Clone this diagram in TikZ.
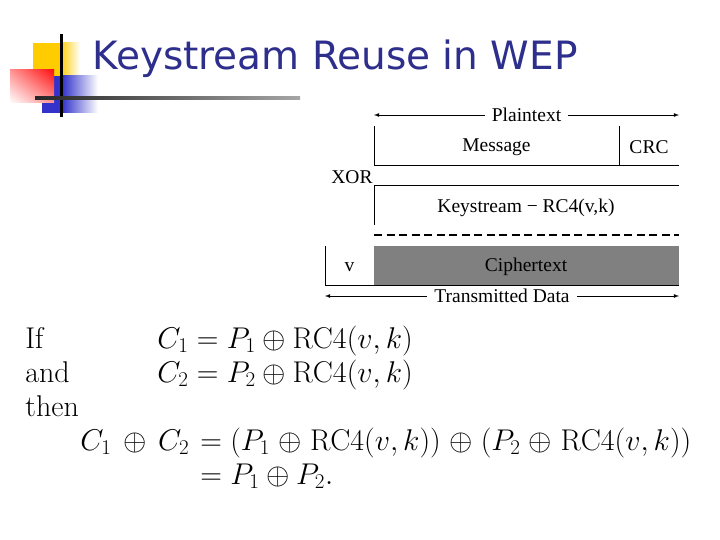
\RequirePackage{fix-cm}
\documentclass[tikz,border=0pt]{standalone}
\usepackage{fontspec}
\usepackage{amsmath}
\usetikzlibrary{shadings}
\newfontfamily\titlefont{DejaVu Sans}
\newfontfamily\diagfont{Liberation Serif}
\definecolor{titleblue}{HTML}{2E2E8C}
\definecolor{logoyellow}{HTML}{FFCC00}
\definecolor{logored}{HTML}{FF1010}
\definecolor{logoblue}{HTML}{3333CC}
\definecolor{cipherfill}{HTML}{808080}
\newcommand{\wideoplus}{\mathbin{\mkern1mu\oplus\mkern1mu}}

\begin{document}
\begin{tikzpicture}[
    x=1pt, y=-1pt,
    line width=0.8pt,
    lbl/.style={font=\diagfont\fontsize{19.5}{21}\selectfont, inner sep=1pt},
    spanlbl/.style={lbl, fill=white, inner xsep=7pt},
    mathline/.style={font=\fontsize{30}{36}\selectfont, inner sep=0pt, anchor=base west}
]

    \useasboundingbox (0,0) rectangle (720,540);

    % Logo squares
    \fill[logoyellow] (33,43) rectangle (60,76);
    \shade[left color=logoyellow, right color=white] (60,43) rectangle (80,76);
    \fill[logoblue] (42,76) rectangle (62,113);
    \shade[left color=logoblue, right color=white] (62,76) rectangle (98,113);
    \shade[upper left=logored!45!white, upper right=logored, lower left=white, lower right=logored!45!white] (10,70) rectangle (54,103);
    % Logo cross lines
    \fill[black] (60,34) rectangle (63,117);
    \shade[left color=black!85, right color=black!35] (35,96.5) rectangle (300,99.5);

    % Title
    \node[anchor=base west, inner sep=0pt, text=titleblue, font=\titlefont\fontsize{39}{40}\selectfont] (title) at (92,70) {Keystream Reuse in WEP};

    % Plaintext span
    \coordinate (ptL) at (374,115);
    \coordinate (ptR) at (679,115);
    \draw[latex-latex] (ptL) -- node[spanlbl] (plain) {Plaintext} (ptR);

    % Message / CRC
    \draw (374,126) -- (374,165) -- (679,165);
    \draw (619,126) -- (619,165);
    \node[lbl] (msg) at (496.5,147) {Message};
    \node[lbl] (crc) at (649,147) {CRC};

    \node[lbl] (xor) at (352,177) {XOR};

    % Keystream
    \draw (374,225) -- (374,185) -- (679,185);
    \node[lbl] (keys) at (526,208) {Keystream − RC4(v,k)};
    \draw[dashed, dash pattern=on 8pt off 4.5pt, line width=1.2pt] (374,235) -- (679,235);

    % IV and ciphertext
    \fill[cipherfill] (374,246) rectangle (679,285);
    \draw (325,246) -- (325,285) -- (679,285);
    \node[lbl] (iv) at (349.5,267) {v};
    \node[lbl] (cipher) at (526,267) {Ciphertext};

    % Transmitted data span
    \coordinate (tdL) at (325,296);
    \coordinate (tdR) at (679,296);
    \draw[latex-latex] (tdL) -- node[spanlbl] (trans) {Transmitted Data} (tdR);

    % Equations
    \node[mathline] (if) at (25,348) {If};
    \node[mathline] (and) at (25,382) {and};
    \node[mathline] (then) at (25,416) {then};
    \node[mathline] (eqone) at (157,348) {$C_1 = P_1 \oplus \mathrm{RC4}(v,k)$};
    \node[mathline] (eqtwo) at (157,382) {$C_2 = P_2 \oplus \mathrm{RC4}(v,k)$};
    \node[mathline] (eqthree) at (80,450) {$C_1 \,\oplus\, C_2$};
    \node[mathline] (eqfour) at (200,450) {$= (P_1 \wideoplus \mathrm{RC4}(v,k)) \wideoplus (P_2 \wideoplus \mathrm{RC4}(v,k))$};
    \node[mathline] (eqfive) at (200,484) {$= P_1 \oplus P_2.$};

\end{tikzpicture}
\end{document}
